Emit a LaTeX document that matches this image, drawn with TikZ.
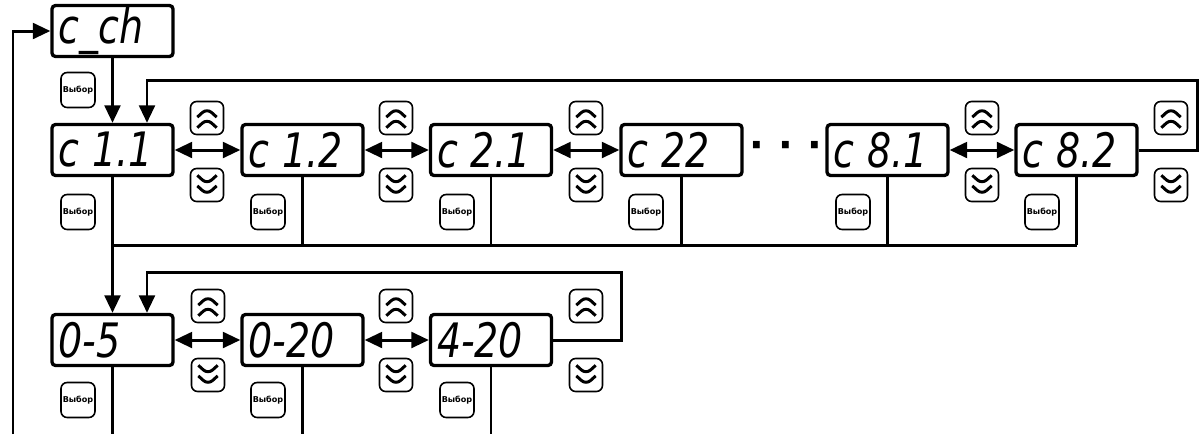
\documentclass[tikz,border=0pt]{standalone}
\usepackage{fontspec}
\usepackage{graphicx}
\setmainfont{DejaVu Sans}
\usepackage{tikz}
\usetikzlibrary{arrows.meta,shapes.geometric,positioning,calc}
\newcommand\segtxt[1]{\scalebox{0.8}[1]{#1}}

\begin{document}
\begin{tikzpicture}[x=0.02cm,y=-0.02cm,
  >={Triangle[length=10pt,width=9pt]},
  disp/.style={rectangle,draw,line width=1.9pt,rounded corners=2pt,
               minimum height=1.02cm,text width=2.16cm,inner xsep=0.13cm,inner ysep=0pt,
               align=left,font=\fontsize{27}{28}\selectfont\itshape},
  btn/.style={rectangle,draw,line width=0.9pt,rounded corners=3.5pt,
              minimum width=0.66cm,minimum height=0.66cm,inner sep=0pt},
  selbtn/.style={btn,minimum width=0.68cm,minimum height=0.7cm,
                 font=\fontsize{4.6}{5}\selectfont\bfseries},
  upbtn/.style={btn,path picture={
     \draw[line width=1.7pt]
      ([shift={(-5.5pt,-5.5pt)}]path picture bounding box.center)--++(5.5pt,5pt)--++(5.5pt,-5pt)
      ([shift={(-5.5pt,0.5pt)}]path picture bounding box.center)--++(5.5pt,5pt)--++(5.5pt,-5pt);}},
  dnbtn/.style={btn,path picture={
     \draw[line width=1.7pt]
      ([shift={(-5.5pt,5.5pt)}]path picture bounding box.center)--++(5.5pt,-5pt)--++(5.5pt,5pt)
      ([shift={(-5.5pt,-0.5pt)}]path picture bounding box.center)--++(5.5pt,-5pt)--++(5.5pt,5pt);}},
  wire/.style={line width=1.7pt},
  arr/.style={wire,->},
  darr/.style={wire,<->}
]
  \useasboundingbox (0,0) rectangle (1200,434);

  \node[disp](cch)  at (112.5,31) {\segtxt{c\_ch}};
  \node[selbtn](s0) at (78,90)    {Выбор};

  \node[disp](c11) at (112.5,150) {\segtxt{c 1.1}};
  \node[disp](c12) at (302.5,150) {\segtxt{c 1.2}};
  \node[disp](c21) at (491,150)   {\segtxt{c 2.1}};
  \node[disp](c22) at (681.5,150) {\segtxt{c 22}};
  \node[disp](c81) at (887.5,150) {\segtxt{c 8.1}};
  \node[disp](c82) at (1076.5,150){\segtxt{c 8.2}};
  \node(dots) at (786,150) {\fontsize{22}{22}\selectfont\bfseries ·\hspace{8pt}·\hspace{8pt}·};

  \node[upbtn](u1) at (207,118) {}; \node[dnbtn](d1) at (207,185) {};
  \node[upbtn](u2) at (396,118) {}; \node[dnbtn](d2) at (396,185) {};
  \node[upbtn](u3) at (586,118) {}; \node[dnbtn](d3) at (586,185) {};
  \node[upbtn](u4) at (982,118) {}; \node[dnbtn](d4) at (982,185) {};
  \node[upbtn](u5) at (1171,118){}; \node[dnbtn](d5) at (1171,185){};

  \node[selbtn](s11) at (78,212)  {Выбор};
  \node[selbtn](s12) at (268,212) {Выбор};
  \node[selbtn](s21) at (457,212) {Выбор};
  \node[selbtn](s22) at (646,212) {Выбор};
  \node[selbtn](s81) at (853,212) {Выбор};
  \node[selbtn](s82) at (1042,212){Выбор};

  \node[disp](r05)  at (112.5,340) {\segtxt{0-5}};
  \node[disp](r020) at (302.5,340) {\segtxt{0-20}};
  \node[disp](r420) at (491,340)   {\segtxt{4-20}};

  \node[upbtn](u6) at (208,306) {}; \node[dnbtn](d6) at (208,375) {};
  \node[upbtn](u7) at (396,306) {}; \node[dnbtn](d7) at (396,375) {};
  \node[upbtn](u8) at (586,306) {}; \node[dnbtn](d8) at (586,375) {};

  \node[selbtn](s05)  at (78,400)  {Выбор};
  \node[selbtn](s020) at (268,400) {Выбор};
  \node[selbtn](s420) at (457,400) {Выбор};

  \coordinate (tl) at (147,80);  \coordinate (tr) at (1197,80);
  \coordinate (bus) at (0,245);
  \coordinate (ml) at (147,272); \coordinate (mr) at (621,272);
  \coordinate (bot) at (0,434);  \coordinate (lb) at (13,434);

  \draw[arr](lb)--(lb|-cch)--(cch.west);
  \draw[arr](cch)--(c11);
  \draw[darr](c11)--(c12);\draw[darr](c12)--(c21);\draw[darr](c21)--(c22);
  \draw[darr](c81)--(c82);
  \draw[arr](c82.east)--(c82.east-|tr)--(tr)--(tl)--(tl|-c11.north);

  \draw[wire](c11.south|-bus)--(c82.south|-bus);
  \draw[wire](c12)--(c12|-bus);\draw[wire](c21)--(c21|-bus);\draw[wire](c22)--(c22|-bus);
  \draw[wire](c81)--(c81|-bus);\draw[wire](c82)--(c82|-bus);
  \draw[arr](c11)--(r05);

  \draw[darr](r05)--(r020);\draw[darr](r020)--(r420);
  \draw[arr](r420.east)--(r420.east-|mr)--(mr)--(ml)--(ml|-r05.north);

  \draw[wire](r05)--(r05|-bot);\draw[wire](r020)--(r020|-bot);\draw[wire](r420)--(r420|-bot);
\end{tikzpicture}
\end{document}
